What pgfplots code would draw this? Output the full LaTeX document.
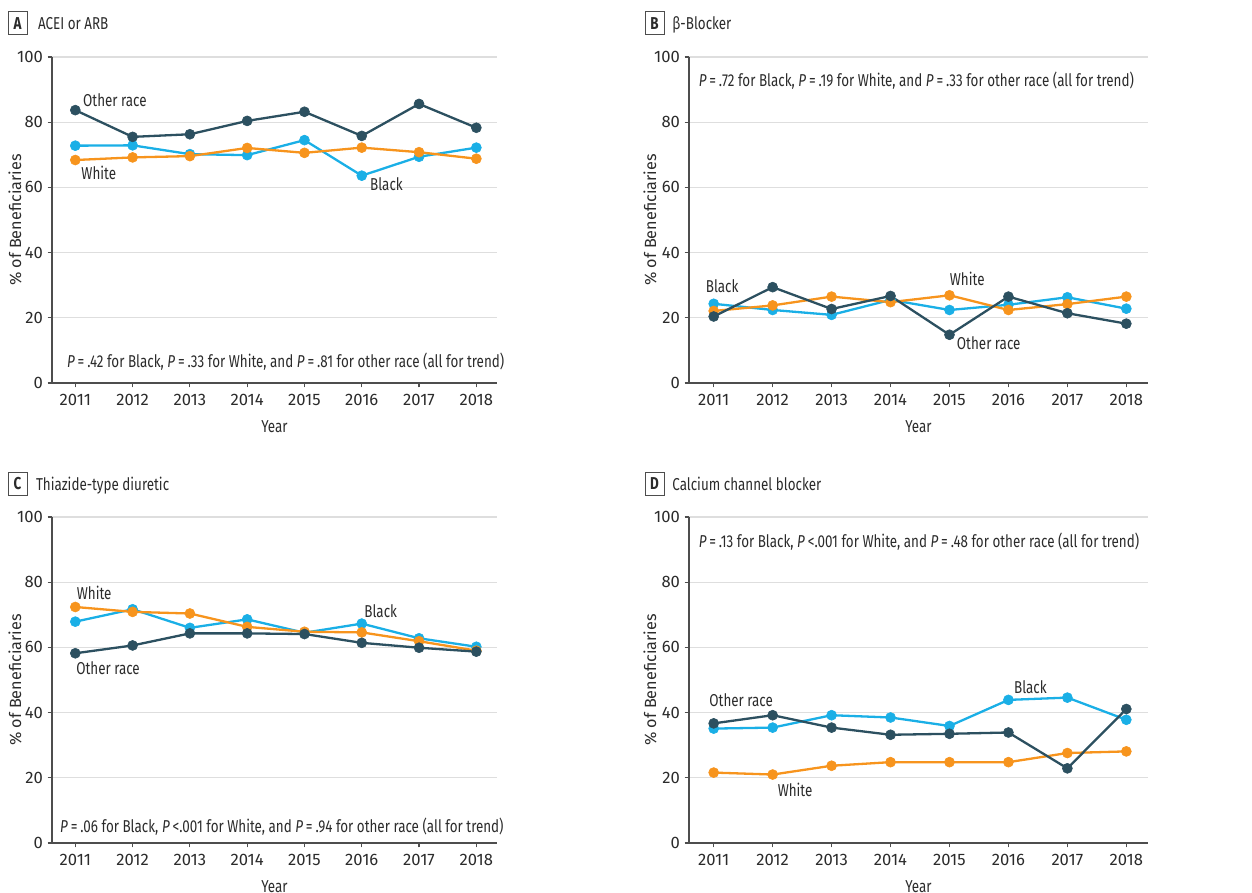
\documentclass[border=0pt]{standalone}
\usepackage{fontspec}
\setmainfont[FakeStretch=0.78]{Fira Sans}
\newfontfamily\wide{Fira Sans}
\usepackage{pgfplots}
\pgfplotsset{compat=1.18}
\definecolor{oth}{HTML}{2C5060}
\definecolor{blk}{HTML}{1AAFE6}
\definecolor{wht}{HTML}{F7941D}
\definecolor{gridc}{HTML}{DEDEDE}
\definecolor{axc}{HTML}{4D4D4D}
\definecolor{txt}{HTML}{2B2B2B}
\newcommand\fs{\fontsize{8.6}{10}\selectfont}
\newcommand\tfs{\wide\fontsize{8.3}{10}\selectfont}
\newcommand\yfs{\wide\fontsize{8.1}{10}\selectfont}
\pgfplotsset{
 panel/.style={
  scale only axis, height=163pt, ymin=0, ymax=100, ytick={0,20,...,100},
  xtick={2011,...,2018},
  x tick label style={/pgf/number format/1000 sep={}},
  axis x line*=bottom, axis y line*=left,
  axis line style={axc, line width=0.6pt, -},
  tick align=outside, major tick length=2.2pt,
  tick style={axc, line width=0.6pt},
  ymajorgrids, grid style={gridc, line width=0.6pt},
  every tick label/.append style={font=\tfs, text=txt},
  yticklabel style={xshift=1.2pt},
  /pgf/number format/assume math mode=true,
  xlabel=Year, ylabel={\% of Beneficiaries},
  xlabel style={font=\fs, text=txt},
  ylabel style={font=\yfs, text=txt},
  clip=false,
 },
 panelL/.style={panel, width=222.5pt, xmin=2010.593, xmax=2018.361,
  xlabel style={at={(axis description cs:0.5,-0.135)}, anchor=center},
  ylabel style={at={(axis description cs:-0.083,0.5)}, anchor=center}},
 panelR/.style={panel, width=229.5pt, xmin=2010.581, xmax=2018.368,
  xlabel style={at={(axis description cs:0.5,-0.135)}, anchor=center},
  ylabel style={at={(axis description cs:-0.085,0.5)}, anchor=center}},
 sB/.style={blk, line width=1.15pt, mark=*, mark size=2.5pt, mark options={line width=0.3pt, fill=blk, draw=blk}},
 sW/.style={wht, line width=1.15pt, mark=*, mark size=2.5pt, mark options={line width=0.3pt, fill=wht, draw=wht}},
 sO/.style={oth, line width=1.15pt, mark=*, mark size=2.5pt, mark options={line width=0.3pt, fill=oth, draw=oth}},
}
\tikzset{lab/.style={anchor=west, font=\fs, text=txt, inner sep=0pt}}
\begin{document}
\begin{tikzpicture}
\path[use as bounding box] (0,0) rectangle (626pt,-446.5pt);
% titles
\draw[axc, line width=0.5pt] (4pt,-6pt) rectangle (13.5pt,-17.5pt);
\node[font=\fs\bfseries, text=txt, inner sep=0pt] at (8.75pt,-11.75pt) {A};
\node[font=\fs, text=txt, anchor=base west, inner sep=0pt] at (18.8pt,-14.7pt) {ACEI or ARB};
\draw[axc, line width=0.5pt] (322.5pt,-6pt) rectangle (332pt,-17.5pt);
\node[font=\fs\bfseries, text=txt, inner sep=0pt] at (327.25pt,-11.75pt) {B};
\node[font=\fs, text=txt, anchor=base west, inner sep=0pt] at (336pt,-14.7pt) {β-Blocker};
\draw[axc, line width=0.5pt] (4pt,-236pt) rectangle (13.5pt,-247.5pt);
\node[font=\fs\bfseries, text=txt, inner sep=0pt] at (8.75pt,-241.75pt) {C};
\node[font=\fs, text=txt, anchor=base west, inner sep=0pt] at (17.8pt,-245pt) {Thiazide-type diuretic};
\draw[axc, line width=0.5pt] (322.5pt,-236pt) rectangle (332pt,-247.5pt);
\node[font=\fs\bfseries, text=txt, inner sep=0pt] at (327.25pt,-241.75pt) {D};
\node[font=\fs, text=txt, anchor=base west, inner sep=0pt] at (336pt,-245pt) {Calcium channel blocker};

% Panel A
\begin{axis}[panelL, at={(26pt,-191.5pt)}, anchor=south west]
\addplot[sB] coordinates {(2011,72.8)(2012,72.9)(2013,70.2)(2014,69.9)(2015,74.5)(2016,63.6)(2017,69.4)(2018,72.2)};
\addplot[sW] coordinates {(2011,68.4)(2012,69.2)(2013,69.6)(2014,72.1)(2015,70.6)(2016,72.2)(2017,70.8)(2018,68.8)};
\addplot[sO] coordinates {(2011,83.7)(2012,75.5)(2013,76.3)(2014,80.4)(2015,83.2)(2016,75.8)(2017,85.6)(2018,78.3)};
\node[lab] at (axis cs:2011.13,86.9) {Other race};
\node[lab] at (axis cs:2011.10,64.4) {White};
\node[lab] at (axis cs:2016.14,61.0) {Black};
\node[lab] at (axis cs:2010.85,6.4) {\textit{P}\,=\,.42 for Black, \textit{P}\,=\,.33 for White, and \textit{P}\,=\,.81 for other race (all for trend)};
\end{axis}

% Panel B
\begin{axis}[panelR, at={(344.5pt,-191.5pt)}, anchor=south west]
\addplot[sB] coordinates {(2011,24.3)(2012,22.4)(2013,20.9)(2014,25.5)(2015,22.4)(2016,24.0)(2017,26.3)(2018,22.8)};
\addplot[sW] coordinates {(2011,22.1)(2012,23.8)(2013,26.5)(2014,24.8)(2015,26.9)(2016,22.4)(2017,24.2)(2018,26.5)};
\addplot[sO] coordinates {(2011,20.4)(2012,29.4)(2013,22.7)(2014,26.7)(2015,14.8)(2016,26.5)(2017,21.4)(2018,18.2)};
\node[lab] at (axis cs:2010.86,29.6) {Black};
\node[lab] at (axis cs:2015.00,31.8) {White};
\node[lab] at (axis cs:2015.12,12.2) {Other race};
\node[lab] at (axis cs:2010.74,92.6) {\textit{P}\,=\,.72 for Black, \textit{P}\,=\,.19 for White, and \textit{P}\,=\,.33 for other race (all for trend)};
\end{axis}

% Panel C
\begin{axis}[panelL, at={(26pt,-421.5pt)}, anchor=south west]
\addplot[sB] coordinates {(2011,67.9)(2012,71.7)(2013,66.0)(2014,68.6)(2015,64.5)(2016,67.3)(2017,62.8)(2018,60.2)};
\addplot[sW] coordinates {(2011,72.4)(2012,70.9)(2013,70.4)(2014,66.3)(2015,64.8)(2016,64.6)(2017,61.9)(2018,59.0)};
\addplot[sO] coordinates {(2011,58.2)(2012,60.6)(2013,64.3)(2014,64.3)(2015,64.1)(2016,61.4)(2017,59.9)(2018,58.7)};
\node[lab] at (axis cs:2011.02,76.8) {White};
\node[lab] at (axis cs:2016.04,71.2) {Black};
\node[lab] at (axis cs:2011.01,53.6) {Other race};
\node[lab] at (axis cs:2010.73,4.9) {\textit{P}\,=\,.06 for Black, \textit{P}\,<.001 for White, and \textit{P}\,=\,.94 for other race (all for trend)};
\end{axis}

% Panel D
\begin{axis}[panelR, at={(344.5pt,-421.5pt)}, anchor=south west]
\addplot[sB] coordinates {(2011,35.1)(2012,35.4)(2013,39.2)(2014,38.5)(2015,35.9)(2016,43.9)(2017,44.6)(2018,37.8)};
\addplot[sW] coordinates {(2011,21.6)(2012,21.0)(2013,23.7)(2014,24.8)(2015,24.8)(2016,24.8)(2017,27.6)(2018,28.1)};
\addplot[sO] coordinates {(2011,36.7)(2012,39.2)(2013,35.4)(2014,33.2)(2015,33.5)(2016,33.9)(2017,22.9)(2018,41.1)};
\node[lab] at (axis cs:2010.92,43.9) {Other race};
\node[lab] at (axis cs:2016.09,47.7) {Black};
\node[lab] at (axis cs:2012.08,16.3) {White};
\node[lab] at (axis cs:2010.74,92.3) {\textit{P}\,=\,.13 for Black, \textit{P}\,<.001 for White, and \textit{P}\,=\,.48 for other race (all for trend)};
\end{axis}
\end{tikzpicture}
\end{document}
